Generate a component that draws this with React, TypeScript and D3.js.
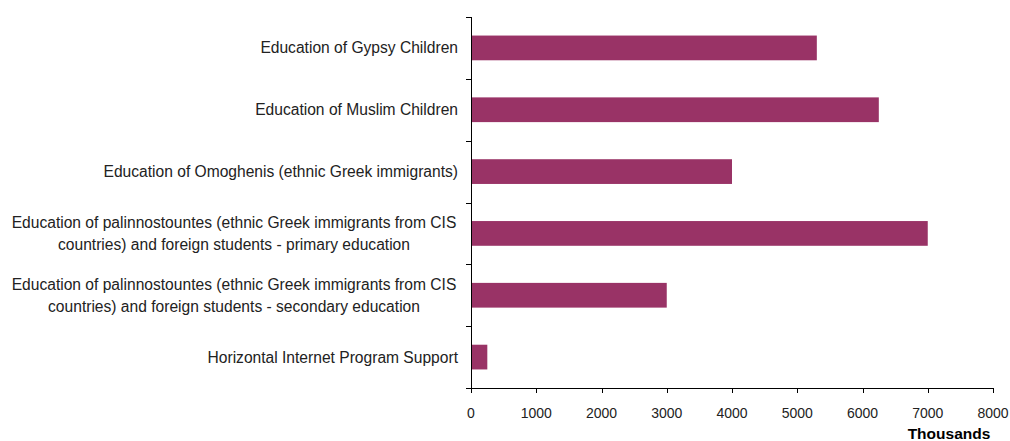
import React from "react";
import * as d3 from "d3";

const categories: string[][] = [
  ["Education of Gypsy Children"],
  ["Education of Muslim Children"],
  ["Education of Omoghenis (ethnic Greek immigrants)"],
  ["Education of palinnostountes (ethnic Greek immigrants from CIS", "countries) and foreign students - primary education"],
  ["Education of palinnostountes (ethnic Greek immigrants from CIS", "countries) and foreign students - secondary education"],
  ["Horizontal Internet Program Support"],
];
const values: number[] = [5300, 6250, 4000, 7000, 3000, 250];
const xTicks: number[] = [0, 1000, 2000, 3000, 4000, 5000, 6000, 7000, 8000];
const axisTitle = "Thousands";

const W = 1010;
const H = 441;
const FONT = "'Liberation Sans', Arial, sans-serif";

export default function App() {
  const top = 17;
  const bottom = 388;
  const x = d3.scaleLinear().domain([0, 8000]).range([471, 993]);
  const ids = categories.map((_, i) => String(i));
  const y = d3.scaleBand().domain(ids).range([top, bottom]).paddingInner(0.6).paddingOuter(0.3);
  const step = y.step();
  const fs = 15.6;
  return (
    <svg width={W} height={H} style={{ position: "absolute", left: 0, top: 0 }} fontFamily={FONT}>
      <rect x={0} y={0} width={W} height={H} fill="#fff" />
      {values.map((v, i) => (
        <rect key={i} x={x(0)} y={y(String(i))} width={x(v) - x(0)} height={y.bandwidth()} fill="#993366" />
      ))}
      {/* y axis */}
      <line x1={x(0) + 0.5} x2={x(0) + 0.5} y1={top} y2={bottom} stroke="#000" />
      {d3.range(categories.length + 1).map((k) => (
        <line key={k} x1={x(0) - 5} x2={x(0) + 0.5} y1={Math.round(top + k * step) + 0.5} y2={Math.round(top + k * step) + 0.5} stroke="#000" />
      ))}
      {/* x axis */}
      <line x1={x(0) - 5} x2={x(8000) + 0.5} y1={bottom + 0.5} y2={bottom + 0.5} stroke="#000" />
      {xTicks.map((t) => (
        <g key={t}>
          <line x1={Math.round(x(t)) + 0.5} x2={Math.round(x(t)) + 0.5} y1={bottom} y2={bottom + 5} stroke="#000" />
          <text x={x(t)} y={418} textAnchor="middle" fontSize={14} fill="#222">{t}</text>
        </g>
      ))}
      <text x={949} y={439} textAnchor="middle" fontSize={15.5} fontWeight="bold" fill="#000">{axisTitle}</text>
      {categories.map((lines, i) => {
        const cy = (y(String(i)) as number) + y.bandwidth() / 2;
        if (lines.length === 1) {
          return (
            <text key={i} x={458} y={cy + 5.5} textAnchor="end" fontSize={fs} fill="#222">{lines[0]}</text>
          );
        }
        const lh = 22;
        const start = cy - ((lines.length - 1) * lh) / 2;
        return (
          <text key={i} textAnchor="middle" fontSize={fs} fill="#222">
            {lines.map((l, j) => (
              <tspan key={j} x={234} y={start + j * lh + 5.5}>{l}</tspan>
            ))}
          </text>
        );
      })}
    </svg>
  );
}
